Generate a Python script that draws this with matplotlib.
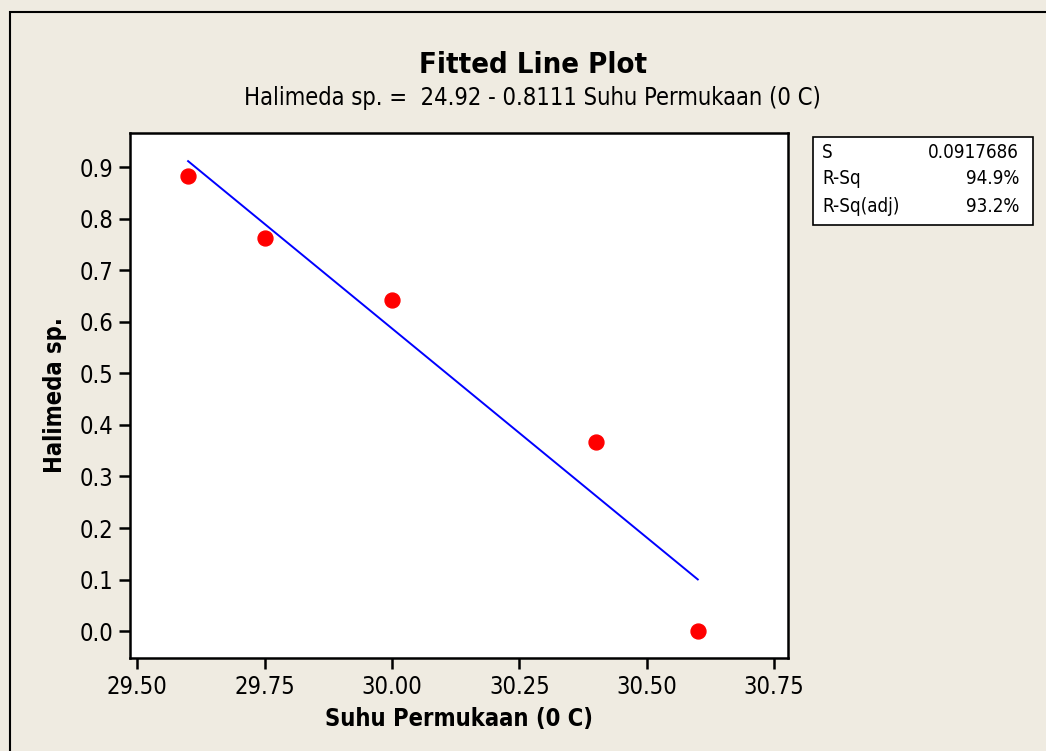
import matplotlib.pyplot as plt
from matplotlib.patches import Rectangle
import numpy as np

# data
suhu = [29.60, 29.75, 30.00, 30.40, 30.60]
halimeda = [0.883, 0.762, 0.643, 0.366, 0.0]
intercept = 24.92
slope = -0.8111
stat_names = ["S", "R-Sq", "R-Sq(adj)"]
stat_values = ["0.0917686", "94.9%", "93.2%"]
xticks = [29.50, 29.75, 30.00, 30.25, 30.50, 30.75]
yticks = [0.0, 0.1, 0.2, 0.3, 0.4, 0.5, 0.6, 0.7, 0.8, 0.9]

bg = "#efebe1"
font = dict(family="DejaVu Sans", stretch="condensed")

fig = plt.figure(figsize=(10.46, 7.51), dpi=100, facecolor=bg)
W, H = 1046, 751

# outer frame (cut off at right and bottom like the source)
fig.patches.append(Rectangle((10 / W, -0.1), 1.2, 1 - 12 / H + 0.1,
                             transform=fig.transFigure, fill=False,
                             edgecolor="black", linewidth=1.5))

ax = fig.add_axes([130 / W, 1 - 658 / H, (788 - 130) / W, (658 - 133) / H])
ax.set_facecolor("white")

xs = np.linspace(min(suhu), max(suhu), 50)
ax.plot(xs, intercept + slope * xs, color="#0000ff", linewidth=1.4)
ax.scatter(suhu, halimeda, s=115, color="#ff0000", zorder=3)

ax.set_xlim(29.486, 30.777)
ax.set_ylim(-0.052, 0.966)
ax.set_xticks(xticks)
ax.set_xticklabels([f"{v:.2f}" for v in xticks], **font)
ax.set_yticks(yticks)
ax.set_yticklabels([f"{v:.1f}" for v in yticks], **font)
ax.tick_params(direction="out", length=8, width=1.8, labelsize=17, pad=4)
for sp in ax.spines.values():
    sp.set_linewidth(1.8)

ax.set_xlabel("Suhu Permukaan (0 C)", fontsize=17, fontweight="bold", labelpad=6, **font)
ax.set_ylabel("Halimeda sp.", fontsize=17, fontweight="bold", labelpad=9, **font)

fig.text(533 / W, 1 - 65 / H, "Fitted Line Plot", ha="center", va="center",
         fontsize=21, fontweight="bold", **font)
fig.text(532 / W, 1 - 98 / H, "Halimeda sp. =  24.92 - 0.8111 Suhu Permukaan (0 C)",
         ha="center", va="center", fontsize=17, **font)

# statistics box
fig.patches.append(Rectangle((813 / W, 1 - 225 / H), (1033 - 813) / W, (225 - 137) / H,
                             transform=fig.transFigure, facecolor="white",
                             edgecolor="black", linewidth=1.2))
for i, (n, v) in enumerate(zip(stat_names, stat_values)):
    y = 1 - (152 + i * 27) / H
    fig.text(822 / W, y, n, ha="left", va="center", fontsize=13.5, **font)
    fig.text(1019 / W, y, v, ha="right", va="center", fontsize=13.5, **font)

fig.savefig("out.png", dpi=100, facecolor=bg)
